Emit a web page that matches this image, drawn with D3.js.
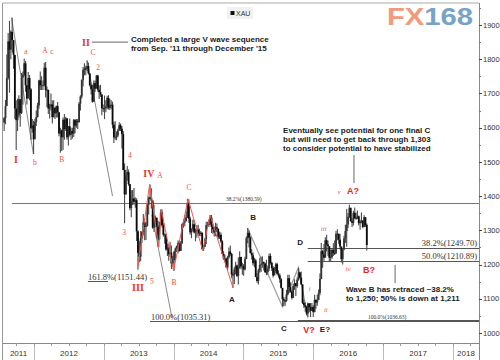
<!DOCTYPE html>
<html><head><meta charset="utf-8">
<script src="https://cdn.jsdelivr.net/npm/d3@7"></script>
<style>body{margin:0;background:#fff}svg{display:block}</style>
</head><body><svg id="c" width="500" height="360"></svg>
<script>
// ---------- DATA (weekly XAU bars: [high, low, close]) ----------
const firstOpen = 1615;
const start2011 = "2011-07-29";
const xau2011 = [[1632,1590,1628],[1681,1610,1663],[1814,1680,1745],[1877,1740,1852],[1912,1702,1828],[1885,1800,1880],[1921,1820,1856],[1850,1772,1813],[1810,1625,1656],[1680,1535,1622],[1685,1590,1636],[1695,1630,1683],[1684,1603,1643],[1760,1640,1746],[1764,1667,1755],[1802,1750,1788],[1795,1705,1724],[1725,1668,1685],[1763,1690,1745],[1754,1680,1712],[1716,1565,1598],[1625,1586,1606],[1620,1523,1566]];
const start2012 = "2012-01-06";
const xau2012 = [[1626,1590,1617],[1650,1605,1631],[1673,1630,1665],[1740,1655,1738],[1764,1710,1724],[1750,1710,1724],[1738,1710,1725],[1790,1720,1775],[1792,1688,1710],[1720,1660,1711],[1710,1640,1656],[1670,1627,1663],[1700,1650,1668],[1680,1612,1631],[1680,1630,1658],[1660,1625,1642],[1665,1630,1663],[1675,1630,1645],[1645,1575,1583],[1600,1527,1592],[1595,1532,1572],[1630,1535,1623],[1640,1565,1596],[1632,1590,1627],[1628,1565,1572],[1605,1548,1604],[1627,1575,1579],[1600,1564,1590],[1600,1568,1583],[1625,1573,1622],[1625,1584,1606],[1625,1600,1620],[1625,1596,1616],[1675,1615,1670],[1695,1650,1691],[1741,1685,1740],[1777,1720,1769],[1788,1753,1773],[1781,1753,1772],[1796,1765,1780],[1790,1755,1759],[1755,1720,1724],[1730,1697,1712],[1725,1673,1676],[1738,1676,1730],[1738,1705,1714],[1754,1725,1752],[1755,1705,1711],[1723,1684,1704],[1725,1690,1697],[1697,1636,1657],[1668,1646,1656]];
const start2013 = "2013-01-04";
const xau2013 = [[1694,1625,1657],[1680,1645,1662],[1693,1654,1687],[1695,1653,1658],[1684,1652,1667],[1680,1655,1667],[1676,1598,1609],[1617,1555,1572],[1619,1565,1572],[1589,1563,1577],[1597,1572,1592],[1616,1590,1607],[1612,1590,1597],[1605,1539,1581],[1590,1476,1476],[1495,1321,1405],[1477,1405,1462],[1488,1445,1470],[1478,1430,1435],[1435,1359,1365],[1417,1338,1387],[1418,1374,1393],[1424,1375,1383],[1397,1366,1388],[1394,1269,1297],[1300,1185,1234],[1268,1207,1223],[1298,1210,1277],[1298,1263,1295],[1348,1285,1323],[1335,1271,1310],[1324,1272,1313],[1380,1311,1375],[1399,1346,1396],[1434,1392,1395],[1423,1364,1387],[1387,1305,1308],[1375,1295,1333],[1343,1310,1337],[1337,1277,1310],[1328,1251,1273],[1325,1273,1315],[1361,1314,1352],[1361,1308,1315],[1322,1281,1287],[1291,1261,1288],[1290,1240,1244],[1262,1225,1250],[1259,1211,1230],[1267,1222,1235],[1256,1187,1203],[1225,1195,1213]];
const start2014 = "2014-01-03";
const xau2014 = [[1240,1182,1237],[1250,1212,1247],[1256,1237,1254],[1270,1233,1264],[1271,1238,1240],[1269,1240,1262],[1320,1261,1318],[1332,1308,1323],[1345,1312,1326],[1355,1330,1338],[1392,1336,1379],[1391,1322,1334],[1340,1287,1294],[1306,1277,1303],[1331,1297,1318],[1331,1291,1294],[1305,1268,1300],[1315,1278,1302],[1316,1285,1290],[1305,1283,1293],[1298,1283,1292],[1295,1244,1245],[1256,1240,1252],[1278,1252,1274],[1325,1260,1315],[1325,1307,1316],[1332,1310,1320],[1345,1315,1337],[1345,1292,1310],[1320,1290,1303],[1311,1282,1294],[1322,1283,1309],[1320,1295,1305],[1305,1274,1280],[1296,1275,1287],[1294,1263,1268],[1271,1230,1231],[1239,1214,1216],[1229,1207,1217],[1220,1190,1192],[1226,1183,1222],[1250,1217,1238],[1256,1226,1231],[1234,1160,1171],[1177,1132,1169],[1192,1143,1186],[1208,1172,1197],[1200,1164,1167],[1221,1142,1191],[1239,1188,1222],[1223,1186,1195],[1205,1170,1195]];
const start2015 = "2015-01-02";
const xau2015 = [[1202,1167,1186],[1223,1183,1216],[1283,1216,1277],[1307,1262,1293],[1300,1250,1279],[1283,1232,1234],[1245,1215,1227],[1235,1197,1204],[1220,1192,1212],[1217,1163,1164],[1175,1147,1152],[1188,1142,1183],[1220,1176,1199],[1223,1178,1201],[1224,1191,1207],[1209,1183,1203],[1205,1175,1178],[1214,1169,1178],[1197,1170,1189],[1232,1181,1225],[1232,1200,1205],[1208,1181,1190],[1196,1162,1168],[1193,1171,1181],[1205,1175,1201],[1205,1170,1173],[1183,1162,1168],[1174,1147,1157],[1160,1130,1132],[1131,1077,1099],[1105,1078,1095],[1096,1080,1094],[1126,1091,1113],[1170,1110,1160],[1170,1117,1134],[1148,1118,1121],[1125,1098,1103],[1143,1102,1137],[1157,1126,1146],[1141,1108,1137],[1163,1132,1156],[1191,1153,1177],[1178,1160,1162],[1180,1140,1142],[1142,1085,1088],[1098,1073,1081],[1090,1062,1076],[1080,1052,1057],[1089,1046,1086],[1088,1061,1075],[1088,1047,1065],[1088,1066,1076]];
const start2016 = "2016-01-01";
const xau2016 = [[1081,1047,1061],[1112,1061,1097],[1098,1071,1089],[1112,1080,1097],[1127,1096,1117],[1174,1110,1158],[1263,1157,1239],[1243,1191,1230],[1260,1211,1220],[1280,1227,1271],[1287,1238,1259],[1270,1226,1254],[1251,1208,1220],[1244,1208,1222],[1248,1217,1243],[1262,1225,1234],[1270,1228,1232],[1298,1237,1290],[1303,1271,1290],[1290,1261,1273],[1290,1244,1253],[1252,1206,1216],[1245,1200,1244],[1284,1242,1276],[1316,1263,1298],[1362,1252,1317],[1351,1307,1340],[1375,1336,1366],[1358,1325,1327],[1335,1310,1322],[1357,1314,1351],[1367,1334,1335],[1352,1331,1336],[1358,1333,1341],[1343,1314,1321],[1331,1302,1326],[1352,1321,1328],[1330,1306,1310],[1344,1309,1338],[1339,1310,1316],[1320,1241,1257]];

const priceTicks = [1000,1100,1200,1300,1400,1500,1600,1700,1800,1900];
const yearLabels = ["2011","2012","2013","2014","2015","2016","2017","2018"];

// wave paths (pivot dates / prices)
const redWave = [["2013-06-28",1195],["2013-08-28",1434],["2013-10-15",1251],["2013-10-28",1361],["2013-12-31",1182],["2014-03-17",1392],["2014-06-02",1240],["2014-07-10",1345],["2014-11-07",1132]];
const grayWave = [["2015-01-22",1307],["2015-07-24",1077],["2015-10-15",1191],["2015-12-03",1046]];
const trendLines = [
  [["2011-09-06",1921],["2011-12-29",1523]],
  [["2012-10-05",1796],["2013-02-15",1400]],
  [["2013-09-09",1345],["2013-12-23",1044]]
];

// fibonacci levels
const fibLevels = [1380.59, 1151.44, 1035.31, 1036.63, 1249.70, 1210.89];
const fibTexts = ["38.2%(1380.59)","161.8%(1151.44)","100.0%(1035.31)","100.0%(1036.63)","38.2%(1249.70)","50.0%(1210.89)"];
const fibFrom = ["2011-09-08","2012-10-09","2013-08-30","2015-10-12","2015-12-03","2015-12-03"];
const fibTo   = ["2018-05-17","2013-01-22","2018-05-17","2018-05-17","2018-05-17","2018-05-17"];
const fibTextAt = ["2014-10-01","2012-10-09","2013-09-04","2016-10-13","2018-05-07","2018-05-07"];

// wave labels [date, price, text, kind]
const waveLabels = [
 ["2011-09-29",1508,"I","major"],["2012-01-06",1500,"b","minor"],["2011-11-20",1824,"a","minor"],
 ["2012-02-27",1827,"A","minor"],["2012-04-04",1824,"c","minor"],["2012-05-26",1508,"B","minor"],
 ["2012-09-29",1850,"II","major"],["2012-11-05",1821,"C","minor"],["2012-12-01",1777,"2","minor"],
 ["2013-05-17",1520,"4","minor"],["2013-08-24",1467,"IV","major"],["2013-10-21",1462,"A","minor"],
 ["2013-04-16",1295,"3","minor"],["2013-09-09",1152,"5","minor"],["2013-06-28",1134,"III","major"],
 ["2014-01-02",1149,"B","minor"],["2014-03-22",1427,"C","minor"],
 ["2014-11-02",1099,"A","dark"],["2015-02-20",1339,"B","dark"],["2015-10-24",1266,"D","dark"],
 ["2015-08-01",1015,"C","dark"],["2015-12-10",1009,"V?","query"],["2016-03-02",1012,"E?","dark"],
 ["2015-12-14",1129,"i","sub"],["2016-03-07",1070,"ii","sub"],["2016-02-25",1304,"iii","sub"],
 ["2016-07-01",1187,"iv","sub"],["2016-05-15",1412,"v","sub"],
 ["2016-07-27",1415,"A?","query"],["2016-10-19",1184,"B?","query"]
];

const noteCompleted = ["Completed a large V wave sequence","from Sep. '11 through December '15"];
const noteEventually = ["Eventually see potential for one final C","but will need to get back through 1,303","to consider potential to have stabilized"];
const noteWaveB = ["Wave B has retraced ~38.2%","to 1,250; 50% is down at 1,211"];
const noteAnchors = [["2013-05-22",1859],["2015-07-27",1593],["2016-06-20",1129]];
const pointerLines = [
  [["2012-10-30",1850],["2013-05-07",1850]],
  [["2016-08-01",1520],["2016-08-01",1438]],
  [["2017-03-04",1199],["2017-03-04",1146]]
];

// ---------- CHART ----------
const svg = d3.select("#c");
const parse = d3.utcParse("%Y-%m-%d");
const L = 3, R = 479, T = 3, B = 343;
const x = d3.scaleUtc().domain([parse("2011-07-23"), parse("2018-05-17")]).range([L, R]);
const y = d3.scaleLinear().domain([970.8, 1964.3]).range([B, T]);

svg.append("rect").attr("width",500).attr("height",360).attr("fill","#fff");
svg.append("defs").append("clipPath").attr("id","plot")
  .append("rect").attr("x",L).attr("y",T).attr("width",R-L).attr("height",B-T);

// frame
svg.append("line").attr("x1",L).attr("x2",R).attr("y1",T).attr("y2",T).attr("stroke","#aaa");
svg.append("line").attr("x1",L-0.5).attr("x2",L-0.5).attr("y1",T).attr("y2",360).attr("stroke","#999");
svg.append("line").attr("x1",R+0.5).attr("x2",R+0.5).attr("y1",T).attr("y2",360).attr("stroke","#888");
svg.append("line").attr("x1",L).attr("x2",R).attr("y1",B+0.5).attr("y2",B+0.5).attr("stroke","#888");

// x axis band
const years = d3.utcYear.range(parse("2012-01-01"), parse("2018-05-17"));
svg.append("g").selectAll("line").data(years).join("line")
  .attr("x1",d=>Math.round(x(d))+0.5).attr("x2",d=>Math.round(x(d))+0.5)
  .attr("y1",B).attr("y2",360).attr("stroke","#bbb");
const quarters = d3.utcMonth.every(3).range(parse("2011-07-23"), parse("2018-05-17"));
svg.append("g").selectAll("line").data(quarters).join("line")
  .attr("x1",d=>Math.round(x(d))+0.5).attr("x2",d=>Math.round(x(d))+0.5)
  .attr("y1",B).attr("y2",B+3).attr("stroke","#999");
const yearCenters = yearLabels.map(s=>{
  const a = Math.max(x(parse(s+"-01-01")), L), b = Math.min(x(parse((+s+1)+"-01-01")), R);
  return (a+b)/2;
});
svg.append("g").selectAll("text").data(yearLabels).join("text")
  .attr("x",(d,i)=>yearCenters[i]).attr("y",356).attr("text-anchor","middle")
  .attr("font-family","Liberation Sans, Arial, sans-serif").attr("font-size",8).attr("fill","#333").text(d=>d);

// y axis (right)
const yAxis = svg.append("g");
const minor = d3.range(1000, 1951, 50);
yAxis.selectAll("line.mi").data(minor).join("line")
  .attr("x1",R).attr("x2",R+2).attr("y1",d=>Math.round(y(d))+0.5).attr("y2",d=>Math.round(y(d))+0.5).attr("stroke","#777");
yAxis.selectAll("line.ma").data(priceTicks).join("line")
  .attr("x1",R).attr("x2",R+3).attr("y1",d=>Math.round(y(d))+0.5).attr("y2",d=>Math.round(y(d))+0.5).attr("stroke","#444");
yAxis.selectAll("text").data(priceTicks).join("text")
  .attr("x",R+4).attr("y",d=>y(d)).attr("dy","0.35em")
  .attr("font-family","Liberation Sans, Arial, sans-serif").attr("font-size",7.5).attr("fill","#333").text(d=>d);

// logo
const logo = svg.append("text").attr("x",387).attr("y",25)
  .attr("font-family","Liberation Sans, Arial, sans-serif").attr("font-weight","bold").attr("font-size",24)
  .attr("textLength",86).attr("lengthAdjust","spacingAndGlyphs");
logo.append("tspan").attr("fill","#f29a7c").text("FX");
logo.append("tspan").attr("fill","#76a3c6").text("168");

// legend
svg.append("rect").attr("x",227).attr("y",7).attr("width",26).attr("height",12).attr("fill","#f1f1f1");
svg.append("rect").attr("x",230.5).attr("y",11).attr("width",4).attr("height",4).attr("fill","#111");
svg.append("text").attr("x",236).attr("y",15.5).attr("font-family","Liberation Sans, Arial, sans-serif")
  .attr("font-size",7).attr("fill","#333").text("XAU");

// build bars
const blocks = [[start2011,xau2011],[start2012,xau2012],[start2013,xau2013],[start2014,xau2014],[start2015,xau2015],[start2016,xau2016]];
const bars = []; let prev = firstOpen;
blocks.forEach(([s, arr]) => {
  const d0 = parse(s);
  arr.forEach((v, i) => { bars.push({date: d3.utcDay.offset(d0, 7*i), h: v[0], l: v[1], c: v[2], o: prev}); prev = v[2]; });
});

const plot = svg.append("g").attr("clip-path","url(#plot)");
const pt = p => [x(parse(p[0])), y(p[1])];

// horizontal fib lines
fibLevels.forEach((v,i)=>{
  const yy = Math.round(y(v))+0.5;
  plot.append("line").attr("x1",x(parse(fibFrom[i]))).attr("x2",x(parse(fibTo[i])))
    .attr("y1",yy).attr("y2",yy).attr("stroke", i===0?"#777":"#555").attr("stroke-width",1);
});

// trend lines
trendLines.forEach(tl=>{
  plot.append("line").attr("x1",pt(tl[0])[0]).attr("y1",pt(tl[0])[1])
    .attr("x2",pt(tl[1])[0]).attr("y2",pt(tl[1])[1]).attr("stroke","#8a8a8a").attr("stroke-width",1);
});

// wave path (gray) behind candles
const ln = d3.line().x(d=>x(parse(d[0]))).y(d=>y(d[1]));
plot.append("path").attr("d",ln(grayWave)).attr("fill","none").attr("stroke","#a0a0a0").attr("stroke-width",1.3);

// candles
const cg = plot.append("g");
cg.selectAll("line").data(bars).join("line")
  .attr("x1",d=>x(d.date)).attr("x2",d=>x(d.date))
  .attr("y1",d=>y(d.h)).attr("y2",d=>y(d.l)).attr("stroke","#4a4a4a").attr("stroke-width",1.1);
cg.selectAll("rect").data(bars).join("rect")
  .attr("x",d=>x(d.date)-0.9).attr("width",1.8)
  .attr("y",d=>Math.min(y(d.o),y(d.c))).attr("height",d=>Math.max(1,Math.abs(y(d.o)-y(d.c))))
  .attr("fill",d=>d.c<d.o?"#0a0a0a":"#333");

// red wave path
plot.append("path").attr("d",ln(redWave)).attr("fill","none").attr("stroke","#ec5a50").attr("stroke-width",1);

// fib texts
const fibSize = [5.5, 8.5, 8.5, 5.5, 8.5, 8.5];
const fibAnchor = ["start","start","start","start","end","end"];
const fibDy = [-1.5, -0.8, -0.8, -1.5, -1.5, -1.5];
fibTexts.forEach((t,i)=>{
  svg.append("text").attr("x",x(parse(fibTextAt[i]))).attr("y",y(fibLevels[i])+fibDy[i])
    .attr("text-anchor",fibAnchor[i]).attr("font-family","Liberation Serif, Times New Roman, serif")
    .attr("font-size",fibSize[i]).attr("fill","#333").text(t);
});

// pointer lines
pointerLines.forEach(pl=>{
  svg.append("line").attr("x1",pt(pl[0])[0]).attr("y1",pt(pl[0])[1])
    .attr("x2",pt(pl[1])[0]).attr("y2",pt(pl[1])[1]).attr("stroke","#666").attr("stroke-width",1);
});

// wave labels
const styles = {
  major: {ff:"Liberation Serif, Times New Roman, serif", fw:"bold", fs:10, fill:"#e23a2e", st:"normal"},
  minor: {ff:"Liberation Serif, Times New Roman, serif", fw:"normal", fs:7.5, fill:"#ee4f45", st:"normal"},
  sub:   {ff:"Liberation Serif, Times New Roman, serif", fw:"normal", fs:7, fill:"#ee5a50", st:"italic"},
  dark:  {ff:"Liberation Sans, Arial, sans-serif", fw:"bold", fs:8, fill:"#222", st:"normal"},
  query: {ff:"Liberation Sans, Arial, sans-serif", fw:"bold", fs:9, fill:"#e2261e", st:"normal"}
};
svg.append("g").selectAll("text").data(waveLabels).join("text")
  .attr("x",d=>x(parse(d[0]))).attr("y",d=>y(d[1])).attr("dy","0.35em").attr("text-anchor","middle")
  .attr("font-family",d=>styles[d[3]].ff).attr("font-weight",d=>styles[d[3]].fw)
  .attr("font-size",d=>styles[d[3]].fs).attr("font-style",d=>styles[d[3]].st)
  .attr("fill",d=>styles[d[3]].fill).text(d=>d[2]);

// notes
[noteCompleted, noteEventually, noteWaveB].forEach((lines,k)=>{
  const a = noteAnchors[k];
  svg.append("g").selectAll("text").data(lines).join("text")
    .attr("x",x(parse(a[0]))).attr("y",(d,i)=>y(a[1])+i*9).attr("dy","0.35em")
    .attr("font-family","Liberation Sans, Arial, sans-serif").attr("font-weight","bold")
    .attr("font-size",8).attr("fill","#1a1a1a").text(d=>d);
});
</script></body></html>
